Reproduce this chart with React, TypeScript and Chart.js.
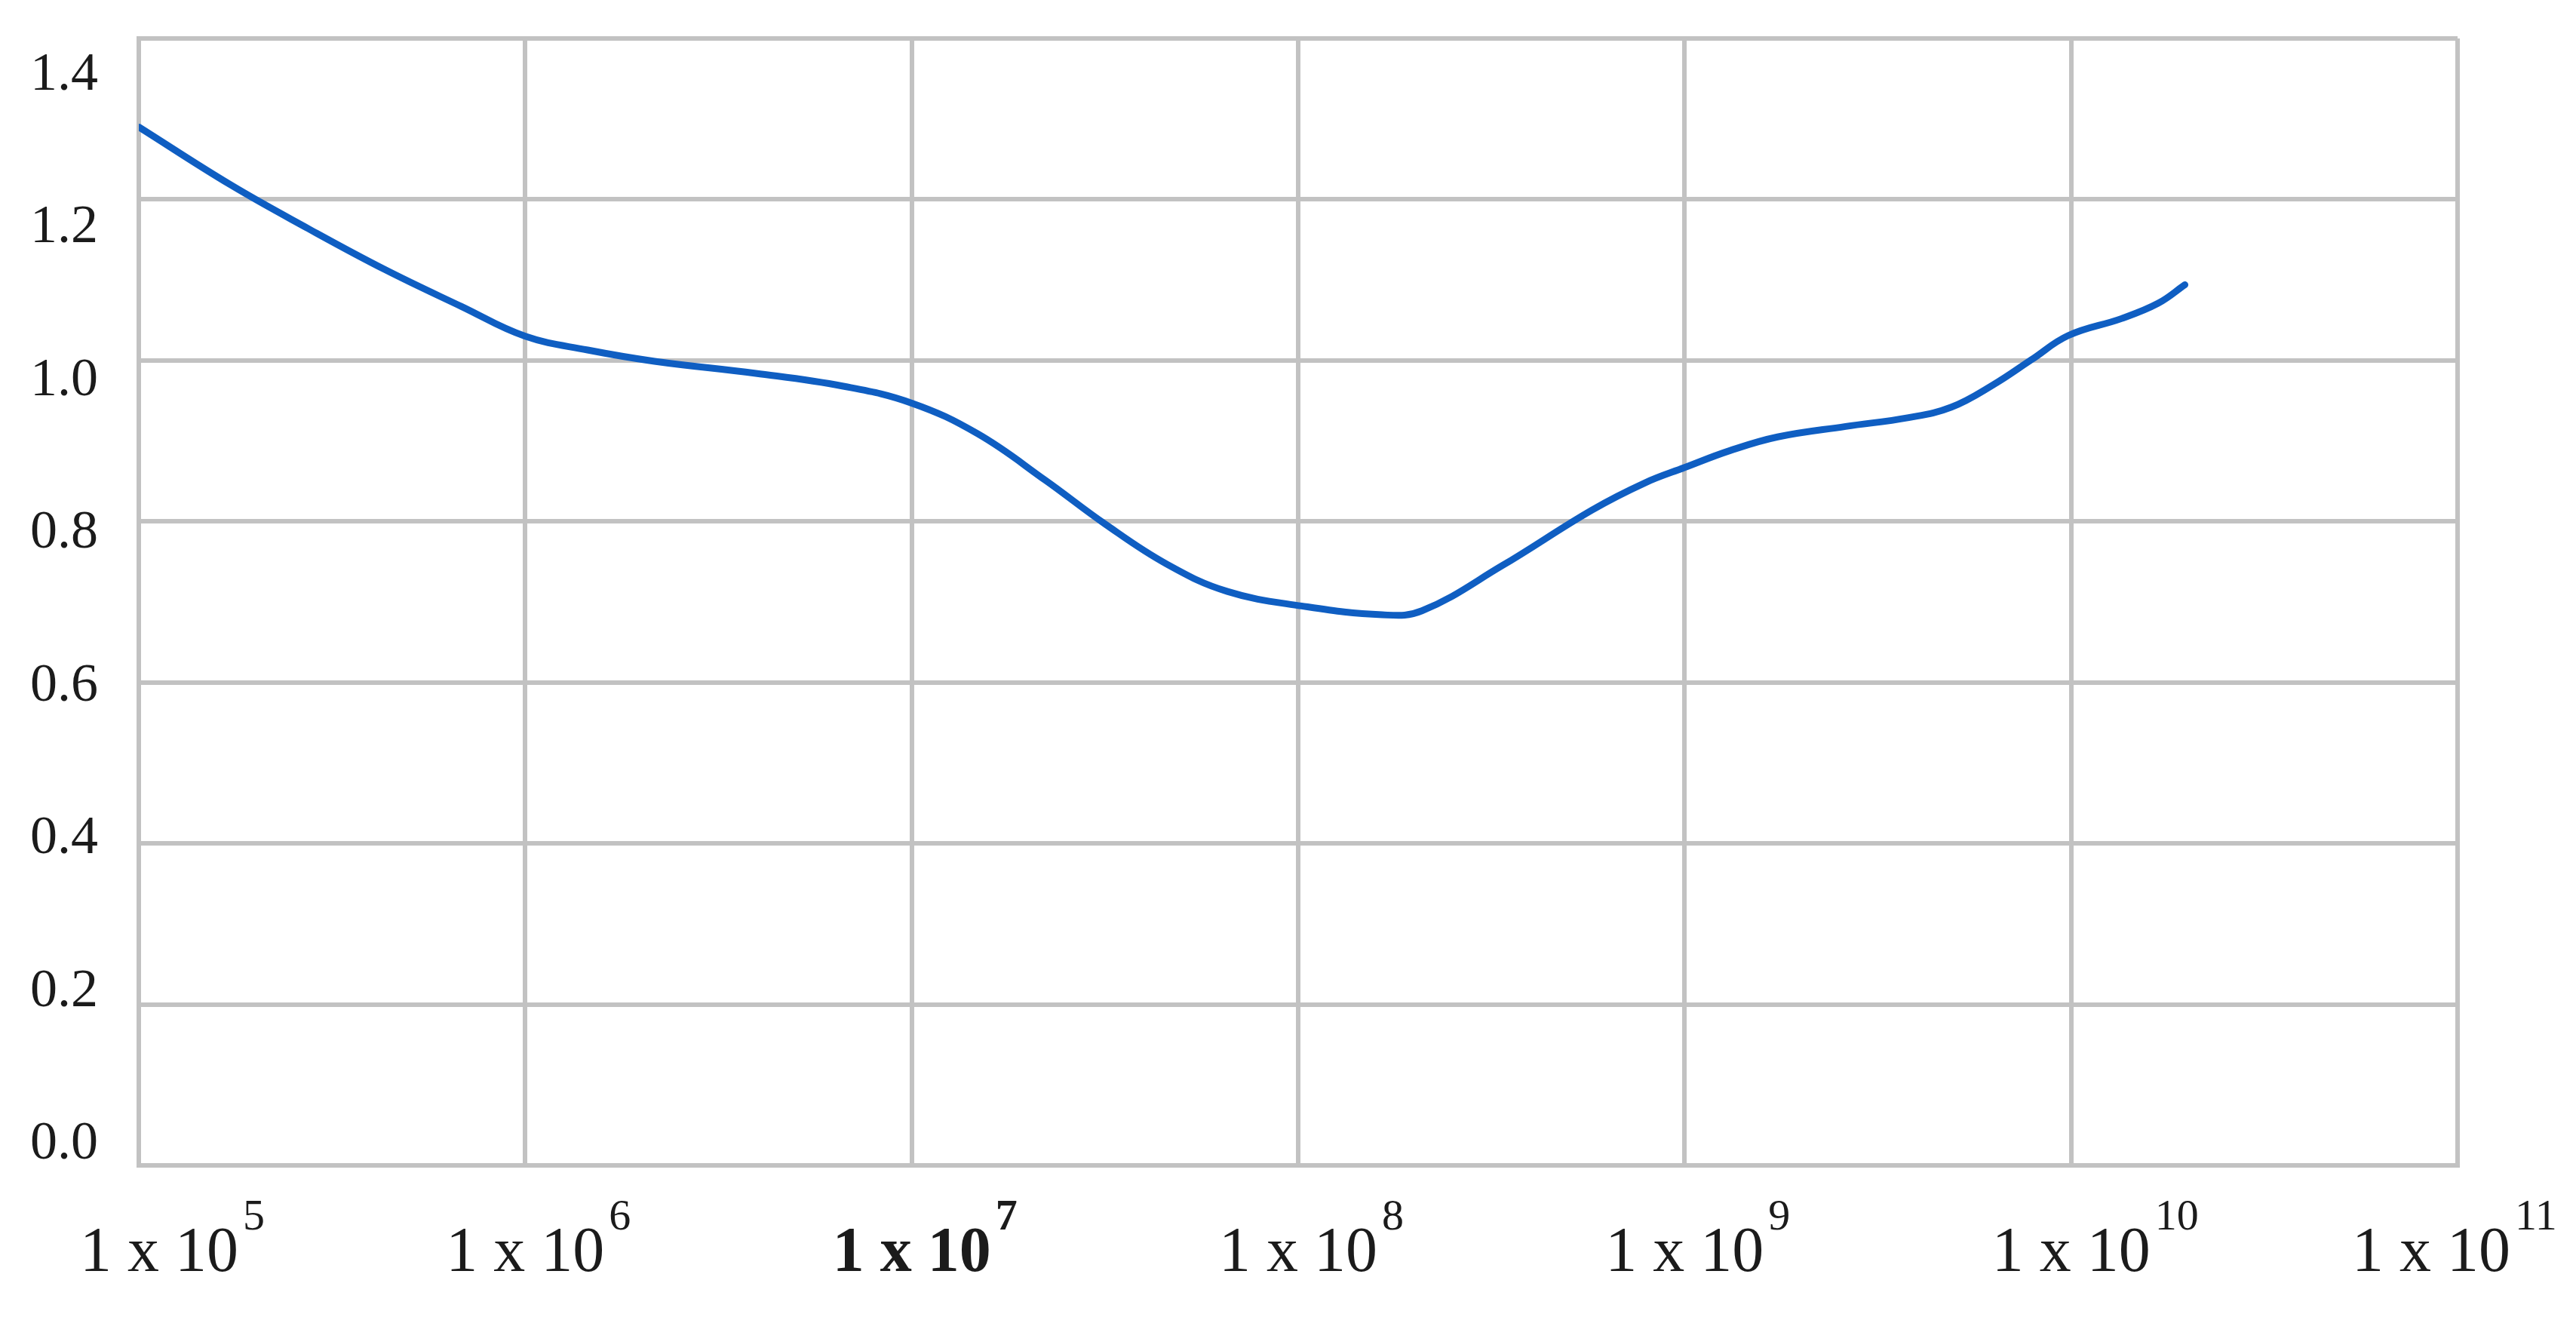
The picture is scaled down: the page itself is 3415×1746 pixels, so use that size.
import React, { useEffect, useRef } from 'react';
import { Chart, ChartConfiguration, registerables } from 'chart.js';

Chart.register(...registerables);

const frequency = [
    1.0e5, 1.73e5, 2.74e5, 4.33e5, 6.84e5, 1.0e6, 1.45e6, 2.16e6, 3.95e6, 6.65e6,
    1.0e7, 1.48e7, 2.22e7, 3.16e7, 4.57e7, 6.56e7, 1.02e8, 1.65e8, 2.09e8, 3.37e8,
    5.75e8, 7.9e8, 1.0e9, 1.31e9, 1.74e9, 2.61e9, 3.8e9, 4.9e9, 6.3e9, 7.9e9,
    9.84e9, 1.35e10, 1.68e10, 1.97e10,
];
const ratio = [
    1.29, 1.218, 1.164, 1.113, 1.067, 1.03, 1.013, 0.999, 0.984, 0.968,
    0.947, 0.909, 0.851, 0.797, 0.747, 0.713, 0.695, 0.684, 0.689, 0.745,
    0.814, 0.848, 0.867, 0.888, 0.905, 0.918, 0.929, 0.942, 0.97, 1.001,
    1.031, 1.052, 1.071, 1.094,
];

const xTicks = [1e5, 1e6, 1e7, 1e8, 1e9, 1e10, 1e11];
const xExponents = ['5', '6', '7', '8', '9', '10', '11'];
const yTicks = [0, 0.2, 0.4, 0.6, 0.8, 1.0, 1.2, 1.4];

const FONT = '"Liberation Serif", "DejaVu Serif", serif';
const GRID = '#c2c2c2';

// tick labels drawn by hand so the x labels can carry a raised exponent
const axisLabels = {
    id: 'axisLabels',
    afterDraw(chart: Chart) {
        const { ctx, chartArea, scales } = chart;
        const xs = scales.x;
        const ys = scales.y;
        ctx.save();
        ctx.fillStyle = '#1b1b1b';
        ctx.textBaseline = 'alphabetic';

        // y labels sit on a column a little tighter than the grid, as in the source
        ctx.font = `72px ${FONT}`;
        ctx.textAlign = 'right';
        yTicks.forEach((v) => {
            const py = ys.getPixelForValue(v);
            const t = (py - chartArea.top) / chartArea.height;
            const base = chartArea.top + 68 + t * (chartArea.height - 77);
            ctx.fillText(v.toFixed(1), chartArea.left - 54, base);
        });

        ctx.textAlign = 'left';
        const baseY = chartArea.bottom + 140;
        xTicks.forEach((v, i) => {
            const gx = xs.getPixelForValue(v);
            const weight = v === 1e7 ? 'bold ' : '';
            ctx.font = `${weight}84px ${FONT}`;
            const text = '1 x 10';
            const w = ctx.measureText(text).width;
            let x0 = gx - w / 2;
            if (i === 0) x0 += 27;
            if (i === xTicks.length - 1) x0 -= 35;
            ctx.fillText(text, x0, baseY);
            ctx.font = `${weight}58px ${FONT}`;
            ctx.fillText(xExponents[i], x0 + w + 6, baseY - 55);
        });
        ctx.restore();
    },
};

const ResponseChart: React.FC = () => {
    const canvasRef = useRef<HTMLCanvasElement>(null);
    const chartRef = useRef<Chart | null>(null);

    useEffect(() => {
        if (!canvasRef.current) return;
        if (chartRef.current) chartRef.current.destroy();
        const ctx = canvasRef.current.getContext('2d');
        if (!ctx) return;

        const config: ChartConfiguration = {
            type: 'line',
            data: {
                datasets: [{
                    label: 'ratio',
                    data: frequency.map((f, i) => ({ x: f, y: ratio[i] })),
                    borderColor: '#0f5ec2',
                    borderWidth: 9,
                    pointRadius: 0,
                    tension: 0.4,
                    borderCapStyle: 'round',
                    borderJoinStyle: 'round',
                    fill: false,
                }],
            },
            options: {
                responsive: true,
                maintainAspectRatio: false,
                animation: false,
                layout: { padding: { left: 184, top: 51, right: 157, bottom: 201 } },
                plugins: {
                    legend: { display: false },
                    tooltip: { enabled: false },
                },
                scales: {
                    x: {
                        type: 'logarithmic',
                        min: 1e5,
                        max: 1e11,
                        afterBuildTicks: (scale) => {
                            scale.ticks = xTicks.map((v) => ({ value: v }));
                        },
                        ticks: { display: false },
                        grid: { color: GRID, lineWidth: 6, drawTicks: false },
                        border: { color: GRID, width: 6 },
                    },
                    y: {
                        min: 0,
                        max: 1.4,
                        afterBuildTicks: (scale) => {
                            scale.ticks = yTicks.map((v) => ({ value: v }));
                        },
                        ticks: { display: false },
                        grid: { color: GRID, lineWidth: 6, drawTicks: false },
                        border: { color: GRID, width: 6 },
                    },
                },
            },
            plugins: [axisLabels],
        };

        chartRef.current = new Chart(ctx, config);

        return () => {
            if (chartRef.current) {
                chartRef.current.destroy();
                chartRef.current = null;
            }
        };
    }, []);

    return <canvas ref={canvasRef} />;
};

export default function App() {
    return (
        <div style={{ position: 'fixed', left: 0, top: 0, width: '100vw', height: '100vh', background: '#fff' }}>
            <ResponseChart />
        </div>
    );
}
